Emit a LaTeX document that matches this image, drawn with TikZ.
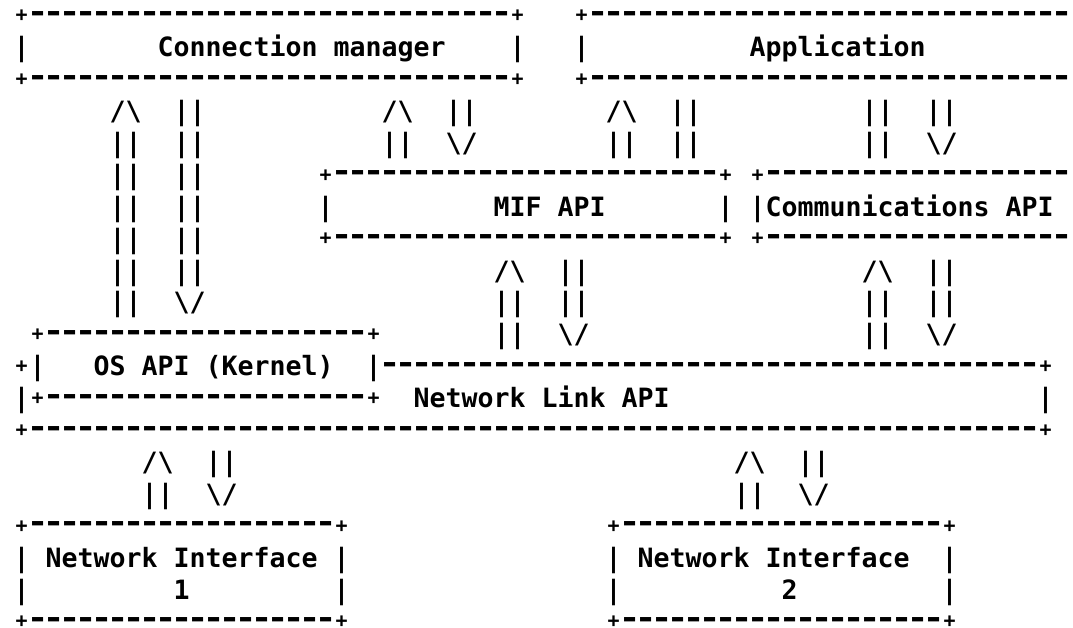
\documentclass[tikz,border=0pt]{standalone}
\usepackage{fontspec}
\usepackage{graphicx}
\newfontfamily\dvm{DejaVu Sans Mono}
\newcount\dn
\newcommand\dd{\makebox[16pt][c]{\raisebox{2.4pt}{\scalebox{1.35}[1.15]{-}}}}
\newcommand\pl{\makebox[16pt][c]{\raisebox{3.2pt}{\scalebox{0.75}{+}}}}
\newcommand\D[1]{\dn=#1\relax\loop\ifnum\dn>0 \dd\advance\dn by -1\relax\repeat}
\newcommand\bs{\textbackslash}
\tikzset{asc/.style={anchor=base west, inner sep=0pt, outer sep=0pt,
  text height=19pt, text depth=5pt,
  font=\dvm\bfseries\fontsize{26.58pt}{32pt}\selectfont}}
\begin{document}
\begin{tikzpicture}
\fill[white] (0pt,0pt) rectangle (1073pt,-627pt);
\useasboundingbox (0pt,0pt) rectangle (1073pt,-627pt);
\begin{scope}[shift={(13.7pt,-24.8pt)}, x=16pt, y=-31.9pt]
% row 0-2 : top boxes
\node[asc] (r0a) at (0,0) {\pl\D{30}\pl};
\node[asc] (r0b) at (35,0) {\pl\D{30}};
\node[asc] (r1a) at (0,1) {|};
\node[asc] (r1b) at (9,1) {Connection manager};
\node[asc] (r1c) at (31,1) {|};
\node[asc] (r1d) at (35,1) {|};
\node[asc] (r1e) at (46,1) {Application};
\node[asc] (r2a) at (0,2) {\pl\D{30}\pl};
\node[asc] (r2b) at (35,2) {\pl\D{30}};
% row 3-4
\node[asc] (r3a) at (6,3) {/\bs{}};
\node[asc] (r3b) at (10,3) {||};
\node[asc] (r3c) at (23,3) {/\bs{}};
\node[asc] (r3d) at (27,3) {||};
\node[asc] (r3e) at (37,3) {/\bs{}};
\node[asc] (r3f) at (41,3) {||};
\node[asc] (r3g) at (53,3) {||};
\node[asc] (r3h) at (57,3) {||};
\node[asc] (r4a) at (6,4) {||};
\node[asc] (r4b) at (10,4) {||};
\node[asc] (r4c) at (23,4) {||};
\node[asc] (r4d) at (27,4) {\bs/};
\node[asc] (r4e) at (37,4) {||};
\node[asc] (r4f) at (41,4) {||};
\node[asc] (r4g) at (53,4) {||};
\node[asc] (r4h) at (57,4) {\bs/};
% left column rows 5-9
\node[asc] (r5a) at (6,5) {||};
\node[asc] (r5b) at (10,5) {||};
\node[asc] (r6a) at (6,6) {||};
\node[asc] (r6b) at (10,6) {||};
\node[asc] (r7a) at (6,7) {||};
\node[asc] (r7b) at (10,7) {||};
\node[asc] (r8a) at (6,8) {||};
\node[asc] (r8b) at (10,8) {||};
\node[asc] (r9a) at (6,9) {||};
\node[asc] (r9b) at (10,9) {\bs/};
% MIF API and Communications API boxes
\node[asc] (r5c) at (19,5) {\pl\D{24}\pl};
\node[asc] (r5d) at (46,5) {\pl\D{19}};
\node[asc] (r6c) at (19,6) {|};
\node[asc] (r6d) at (30,6) {MIF API};
\node[asc] (r6e) at (44,6) {|};
\node[asc] (r6f) at (46,6) {|Communications API};
\node[asc] (r7c) at (19,7) {\pl\D{24}\pl};
\node[asc] (r7d) at (46,7) {\pl\D{19}};
% rows 8-10
\node[asc] (r8c) at (30,8) {/\bs{}};
\node[asc] (r8d) at (34,8) {||};
\node[asc] (r8e) at (53,8) {/\bs{}};
\node[asc] (r8f) at (57,8) {||};
\node[asc] (r9c) at (30,9) {||};
\node[asc] (r9d) at (34,9) {||};
\node[asc] (r9e) at (53,9) {||};
\node[asc] (r9f) at (57,9) {||};
\node[asc] (r10a) at (1,10) {\pl\D{20}\pl};
\node[asc] (r10b) at (30,10) {||};
\node[asc] (r10c) at (34,10) {\bs/};
\node[asc] (r10d) at (53,10) {||};
\node[asc] (r10e) at (57,10) {\bs/};
% OS API / Network Link API
\node[asc] (r11a) at (0,11) {\pl|};
\node[asc] (r11b) at (5,11) {OS API (Kernel)};
\node[asc] (r11c) at (22,11) {|\D{41}\pl};
\node[asc] (r12a) at (0,12) {|\pl\D{20}\pl};
\node[asc] (r12b) at (25,12) {Network Link API};
\node[asc] (r12c) at (64,12) {|};
\node[asc] (r13a) at (0,13) {\pl\D{63}\pl};
% rows 14-15
\node[asc] (r14a) at (8,14) {/\bs{}};
\node[asc] (r14b) at (12,14) {||};
\node[asc] (r14c) at (45,14) {/\bs{}};
\node[asc] (r14d) at (49,14) {||};
\node[asc] (r15a) at (8,15) {||};
\node[asc] (r15b) at (12,15) {\bs/};
\node[asc] (r15c) at (45,15) {||};
\node[asc] (r15d) at (49,15) {\bs/};
% Network interfaces
\node[asc] (r16a) at (0,16) {\pl\D{19}\pl};
\node[asc] (r16b) at (37,16) {\pl\D{20}\pl};
\node[asc] (r17a) at (0,17) {|};
\node[asc] (r17b) at (2,17) {Network Interface};
\node[asc] (r17c) at (20,17) {|};
\node[asc] (r17d) at (37,17) {|};
\node[asc] (r17e) at (39,17) {Network Interface};
\node[asc] (r17f) at (58,17) {|};
\node[asc] (r18a) at (0,18) {|};
\node[asc] (r18b) at (10,18) {1};
\node[asc] (r18c) at (20,18) {|};
\node[asc] (r18d) at (37,18) {|};
\node[asc] (r18e) at (48,18) {2};
\node[asc] (r18f) at (58,18) {|};
\node[asc] (r19a) at (0,19) {\pl\D{19}\pl};
\node[asc] (r19b) at (37,19) {\pl\D{20}\pl};
\end{scope}
\end{tikzpicture}
\end{document}
